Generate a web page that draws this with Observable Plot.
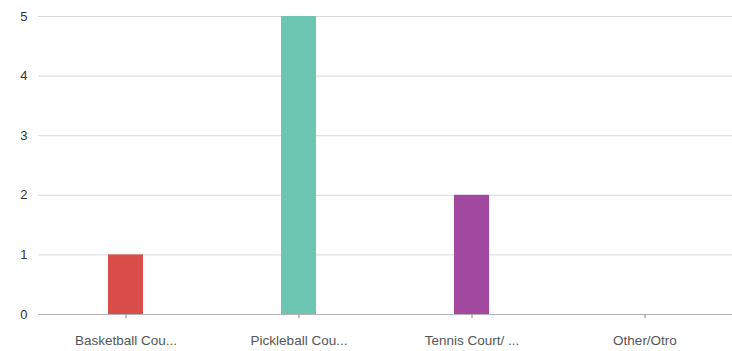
<!DOCTYPE html>
<html>
<head>
<meta charset="utf-8">
<script src="https://cdn.jsdelivr.net/npm/d3@7"></script>
<script src="https://cdn.jsdelivr.net/npm/@observablehq/plot@0.6"></script>
<style>
  html, body { margin: 0; padding: 0; background: #fff; }
  #chart svg { display: block; font-family: "Liberation Sans", Arial, sans-serif; }
</style>
</head>
<body>
<div id="chart"></div>
<script>
// Responses per facility type
const categories = ["Basketball Cou...", "Pickleball Cou...", "Tennis Court/ ...", "Other/Otro"];
const counts = [1, 5, 2, 0];
const barColors = ["#d94e4b", "#6dc6b2", "#a2489f", "#8c8c8c"];
const yTicks = [0, 1, 2, 3, 4, 5];

const rows = categories.map((c, i) => ({category: c, count: counts[i], color: barColors[i]}));

const chart = Plot.plot({
  width: 732,
  height: 351,
  marginLeft: 38,
  marginRight: 0,
  marginTop: 16,
  marginBottom: 37,
  style: {fontFamily: "Liberation Sans, Arial, sans-serif", fontSize: "13px", background: "#fff"},
  x: {domain: categories, paddingInner: 0.8, paddingOuter: 0.4, label: null},
  y: {domain: [0, 5], label: null},
  marks: [
    Plot.gridY(yTicks.filter(t => t > 0), {stroke: "#d9d9d9", strokeOpacity: 1, strokeWidth: 1}),
    Plot.barY(rows, {x: "category", y: "count", fill: "color"}),
    Plot.ruleY([0], {stroke: "#b3b3b3", strokeWidth: 1}),
    Plot.axisX({tickSize: 4, tickPadding: 17, stroke: "#888", fill: "#555", fontSize: 13.5, label: null}),
    Plot.axisY({ticks: yTicks, tickSize: 0, tickPadding: 11, fill: "#333", fontSize: 13, label: null, tickFormat: d3.format("d")})
  ]
});

document.getElementById("chart").append(chart);
</script>
</body>
</html>
